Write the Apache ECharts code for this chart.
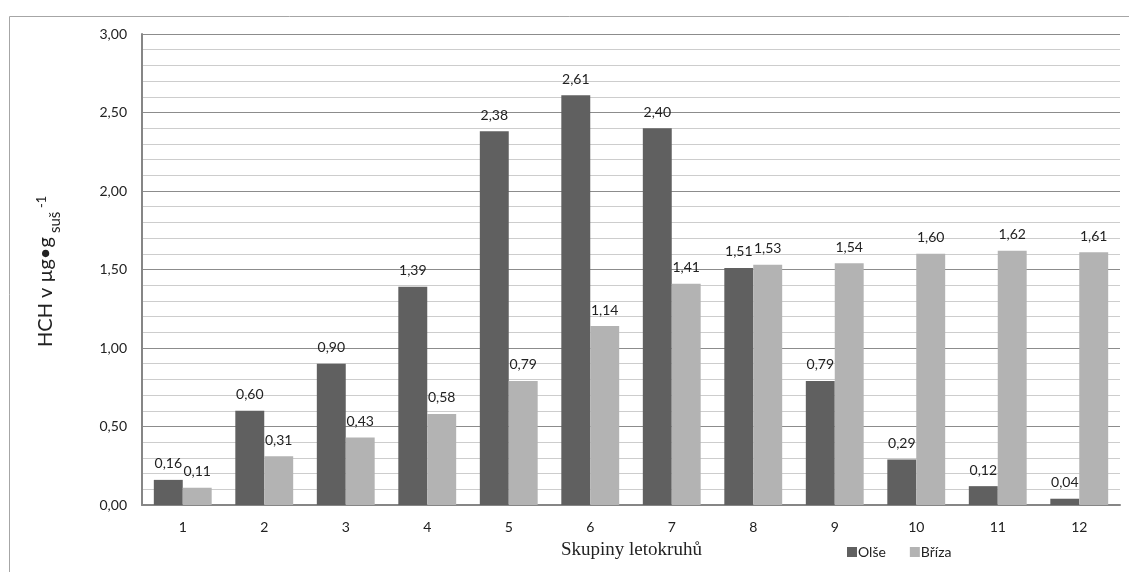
<!DOCTYPE html>
<html>
<head>
<meta charset="utf-8">
<script src="https://cdn.jsdelivr.net/npm/echarts@6/dist/echarts.min.js"></script>
<style>html,body{margin:0;padding:0;background:#fff;}#c{width:1129px;height:572px;}</style>
</head>
<body>
<div id="c"></div>
<script>
const categories = ['1','2','3','4','5','6','7','8','9','10','11','12'];
const olse = [0.16, 0.60, 0.90, 1.39, 2.38, 2.61, 2.40, 1.51, 0.79, 0.29, 0.12, 0.04];
const briza = [0.11, 0.31, 0.43, 0.58, 0.79, 1.14, 1.41, 1.53, 1.54, 1.60, 1.62, 1.61];
const seriesNames = ['Olše', 'Bříza'];
const yTitleMain = 'HCH v µg•g';
const yTitleSub = 'suš';
const yTitleSup = '-1';
const xTitle = 'Skupiny letokruhů';

const fmt = v => v.toFixed(2).replace('.', ',');
const FONT = 'Lato';
const chart = echarts.init(document.getElementById('c'));
const labelCfg = {
  show: true, position: 'top', distance: 9,
  color: '#222', fontFamily: FONT, fontSize: 14,
  formatter: p => fmt(p.value)
};
chart.setOption({
  animation: false,
  textStyle: { fontFamily: FONT },
  graphic: [{
    type: 'rect', shape: { x: 9.5, y: 16.5, width: 1200, height: 700 },
    style: { fill: 'none', stroke: '#a6a6a6', lineWidth: 1 }, silent: true, z: -10
  }, {
    type: 'text', left: 561, top: 541,
    style: { text: xTitle, font: '19px "Liberation Serif"', fill: '#222' }
  }, {
    type: 'group', x: 46, y: 347, rotation: Math.PI / 2,
    children: [{
      type: 'text', x: 0, y: 0,
      style: { text: yTitleMain, font: '20px Lato', fill: '#222', verticalAlign: 'middle', align: 'left' }
    }, {
      type: 'text', x: 114, y: 9,
      style: { text: yTitleSub, font: '15px Lato', fill: '#222', verticalAlign: 'middle', align: 'left' }
    }, {
      type: 'text', x: 139, y: -4,
      style: { text: yTitleSup, font: '13px Lato', fill: '#222', verticalAlign: 'middle', align: 'left' }
    }]
  }],
  grid: { left: 142, right: 9, top: 34, bottom: 67 },
  legend: {
    data: seriesNames, left: 842, top: 540,
    itemWidth: 10, itemHeight: 10, itemGap: 24,
    icon: 'rect',
    textStyle: { fontFamily: FONT, fontSize: 14, color: '#222', padding: [0,0,0,-4] }
  },
  xAxis: {
    type: 'category', data: categories,
    axisLine: { lineStyle: { color: '#868686', width: 2 } },
    axisTick: { show: false },
    axisLabel: { color: '#222', fontFamily: FONT, fontSize: 14, margin: 15 }
  },
  yAxis: {
    type: 'value', min: 0, max: 3, interval: 0.5,
    axisLine: { show: true, lineStyle: { color: '#868686', width: 2 } },
    axisTick: { show: false },
    axisLabel: { color: '#222', fontFamily: FONT, fontSize: 14, margin: 15, formatter: v => fmt(v) },
    splitLine: { show: true, lineStyle: { color: '#8c8c8c', width: 1 } },
    minorTick: { show: false, splitNumber: 5 },
    minorSplitLine: { show: true, lineStyle: { color: '#cdcdcd', width: 1 } }
  },
  series: [{
    name: seriesNames[0], type: 'bar', data: olse,
    barGap: '0%', barCategoryGap: '29%',
    itemStyle: { color: '#606060' }, label: labelCfg
  }, {
    name: seriesNames[1], type: 'bar', data: briza,
    barGap: '0%', barCategoryGap: '29%',
    itemStyle: { color: '#b3b3b3' }, label: labelCfg
  }]
});
</script>
</body>
</html>
